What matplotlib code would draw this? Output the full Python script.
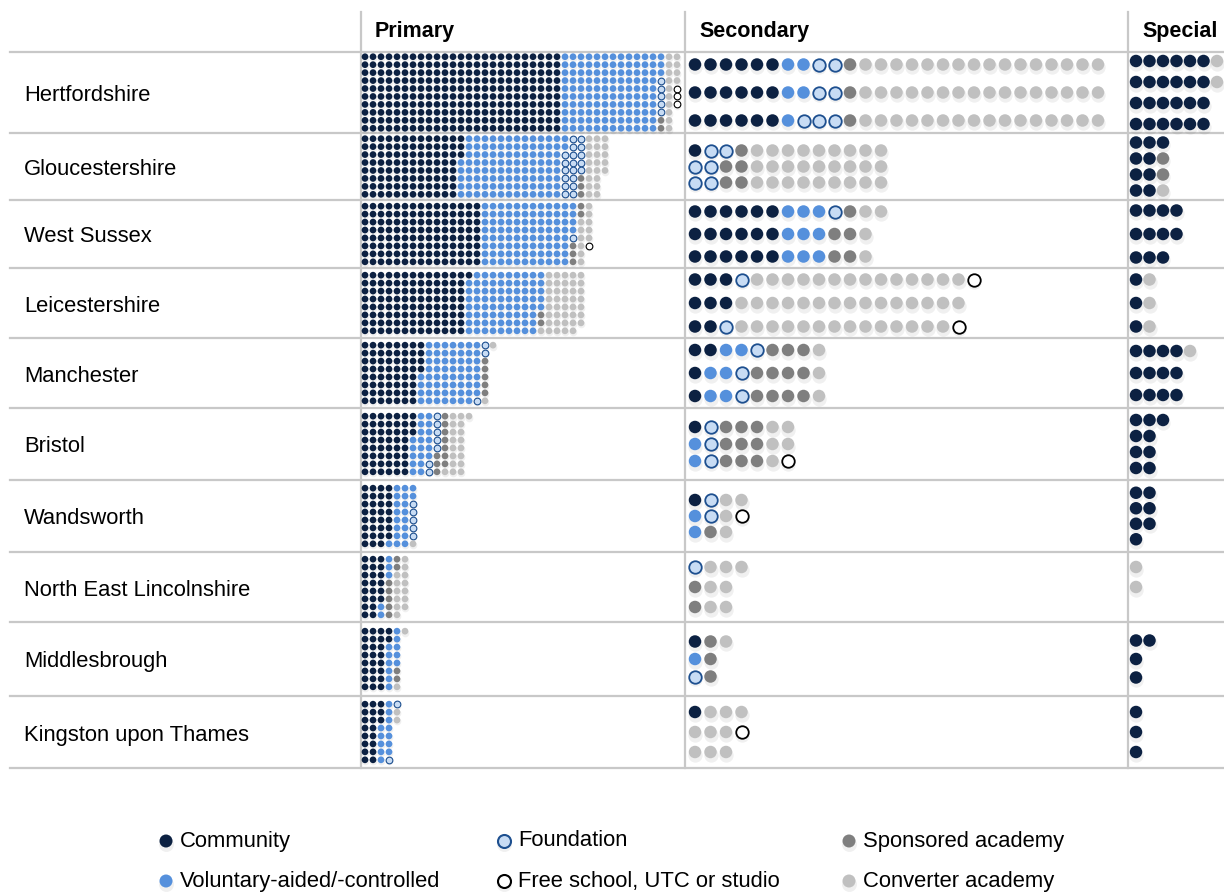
import matplotlib.pyplot as plt

regions = ["Hertfordshire", "Gloucestershire", "West Sussex", "Leicestershire",
           "Manchester", "Bristol", "Wandsworth", "North East Lincolnshire",
           "Middlesbrough", "Kingston upon Thames"]

# dot order inside a cell
school_types = ["Community", "Voluntary-aided/-controlled", "Foundation",
                "Sponsored academy", "Converter academy", "Free school, UTC or studio"]

# number of schools per region, in school_types order
primary = [
    [250, 123, 5, 2, 14, 3],
    [99, 103, 19, 3, 21, 0],
    [120, 92, 1, 5, 11, 1],
    [105, 76, 0, 2, 40, 0],
    [60, 59, 3, 5, 2, 0],
    [51, 19, 7, 10, 18, 0],
    [31, 19, 5, 0, 1, 0],
    [22, 5, 0, 7, 13, 0],
    [26, 11, 0, 2, 2, 0],
    [19, 12, 2, 0, 2, 0],
]
secondary = [
    [18, 5, 7, 3, 48, 0],
    [1, 0, 6, 5, 27, 0],
    [18, 9, 1, 5, 4, 0],
    [8, 0, 2, 0, 43, 2],
    [4, 6, 3, 11, 3, 0],
    [1, 2, 3, 9, 5, 1],
    [1, 2, 2, 1, 4, 1],
    [0, 0, 1, 2, 7, 0],
    [1, 1, 1, 3, 1, 0],
    [1, 0, 0, 0, 9, 1],
]
special = [
    [24, 0, 0, 0, 2, 0],
    [9, 0, 0, 2, 1, 0],
    [11, 0, 0, 0, 0, 0],
    [3, 0, 0, 0, 3, 0],
    [12, 0, 0, 0, 1, 0],
    [9, 0, 0, 0, 0, 0],
    [7, 0, 0, 0, 0, 0],
    [0, 0, 0, 0, 2, 0],
    [4, 0, 0, 0, 0, 0],
    [3, 0, 0, 0, 0, 0],
]

# layout (pixels)
W, H = 1224, 892
row_lines = [52, 133, 200, 268, 338, 408, 480, 552, 622, 696, 768]
col_lines = [361, 685, 1128]
primary_rows = [10, 8, 8, 8, 8, 8, 8, 8, 8, 8]
secondary_pitch = [28, 16, 22.5, 23.5, 23, 17, 16, 20, 17.5, 20]
special_rows = [4, 4, 3, 3, 3, 4, 4, 3, 3, 3]
special_pitch = [21, 16, 23.5, 23.5, 22, 16, 15.5, 20, 18.5, 20]

styles = {
    "Community": dict(c="#0c2142", edgecolors="none"),
    "Voluntary-aided/-controlled": dict(c="#5590dc", edgecolors="none"),
    "Foundation": dict(c="#c8dcf4", edgecolors="#1d4f8f"),
    "Sponsored academy": dict(c="#7f7f7f", edgecolors="none"),
    "Converter academy": dict(c="#c0c0c0", edgecolors="none"),
    "Free school, UTC or studio": dict(c="white", edgecolors="black"),
}

plt.rcParams['font.family'] = ['Liberation Sans', 'DejaVu Sans']

fig = plt.figure(figsize=(W / 100, H / 100), dpi=100)
ax = fig.add_axes([0, 0, 1, 1])
ax.set_xlim(0, W)
ax.set_ylim(H, 0)
ax.axis('off')


def px_size(d):
    # marker diameter in pixels -> scatter size in pt^2
    return (d * 0.72) ** 2


def draw_dots(xs, ys, seq, d, lw):
    # soft shadow under the dots
    ax.scatter(xs, [y + d * 0.2 for y in ys], s=px_size(d * 1.15), c="#000000",
               alpha=0.06, linewidths=0, zorder=2)
    for t in school_types:
        px = [x for x, s in zip(xs, seq) if s == t]
        py = [y for y, s in zip(ys, seq) if s == t]
        if px:
            ax.scatter(px, py, s=px_size(d), linewidths=lw, zorder=3, **styles[t])


def draw_cell(counts, x0, yc, rows, dx, dy, d, lw):
    seq = []
    for t, n in zip(school_types, counts):
        seq += [t] * n
    if not seq:
        return
    xs = [x0 + (i // rows) * dx for i in range(len(seq))]
    ys = [yc + (i % rows - (rows - 1) / 2) * dy for i in range(len(seq))]
    draw_dots(xs, ys, seq, d, lw)


line_col = "#c8c8c8"
for y in row_lines:
    ax.plot([10, W], [y, y], color=line_col, lw=1.6, zorder=1)
for x in col_lines:
    ax.plot([x, x], [12, row_lines[-1]], color=line_col, lw=1.6, zorder=1)

for x, name in zip(col_lines, ["Primary", "Secondary", "Special"]):
    ax.text(x + 14, 32, name, fontsize=15.5, fontweight='bold', va='center', ha='left')

for i, name in enumerate(regions):
    top, bot = row_lines[i], row_lines[i + 1]
    yc = (top + bot) / 2
    ax.text(24, yc + 3, name, fontsize=15.8, va='center', ha='left')
    draw_cell(primary[i], 365, yc, primary_rows[i], 8.0, 7.95, 6.7, 0.8)
    draw_cell(secondary[i], 695, yc, 3, 15.5, secondary_pitch[i], 12.5, 1.3)
    draw_cell(special[i], 1136, yc, special_rows[i], 13.5, special_pitch[i], 12.5, 1.3)

# legend
legend_cols = [166, 504, 849]
legend_rows = [841, 881]
legend_order = [["Community", "Foundation", "Sponsored academy"],
                ["Voluntary-aided/-controlled", "Free school, UTC or studio", "Converter academy"]]
for r, names in zip(legend_rows, legend_order):
    for x, t in zip(legend_cols, names):
        draw_dots([x], [r], [t], 13, 1.5)
        ax.text(x + 14, r, t, fontsize=15.8, va='center', ha='left')

fig.savefig("out.png", dpi=100)
